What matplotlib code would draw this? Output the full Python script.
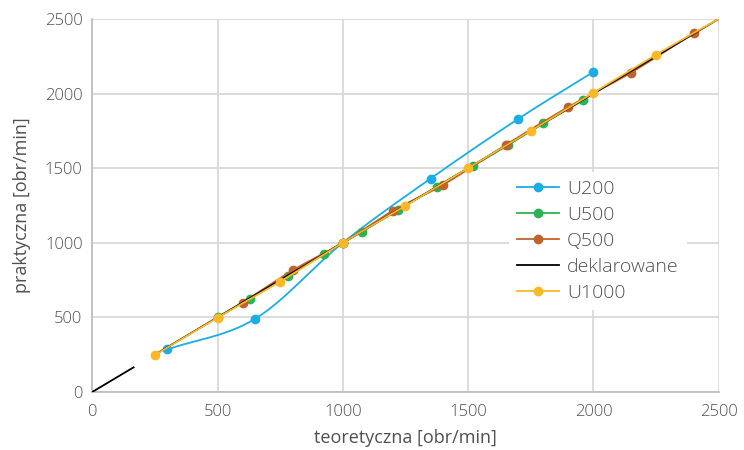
import matplotlib
matplotlib.use("Agg")
import matplotlib.pyplot as plt
import numpy as np

plt.rcParams['font.family'] = ['Open Sans', 'DejaVu Sans']
plt.rcParams['font.weight'] = 'light'

u200_x = [300, 650, 1000, 1350, 1700, 2000]
u200_y = [285, 490, 1000, 1430, 1830, 2145]

u500_x = [500, 630, 780, 925, 1000, 1075, 1220, 1375, 1520, 1660, 1800, 1960]
u500_y = [500, 625, 775, 925, 1000, 1072, 1220, 1372, 1515, 1655, 1800, 1955]

q500_x = [600, 800, 1000, 1200, 1400, 1650, 1900, 2150, 2400]
q500_y = [598, 815, 1000, 1215, 1388, 1655, 1910, 2140, 2405]

dekl_x = [0, 165, np.nan, 250, 2500]
dekl_y = [0, 165, np.nan, 250, 2500]

u1000_x = [250, 500, 750, 1000, 1250, 1500, 1750, 2000, 2250, 2500]
u1000_y = [248, 498, 740, 1000, 1248, 1500, 1750, 2005, 2260, 2500]

ticks = [0, 500, 1000, 1500, 2000, 2500]


def smooth(x, y, n=30):
    # wygladzanie jak w Excelu (Catmull-Rom)
    p = np.column_stack([x, y]).astype(float)
    p = np.vstack([p[0] * 2 - p[1], p, p[-1] * 2 - p[-2]])
    out = []
    t = np.linspace(0, 1, n)[:, None]
    for i in range(1, len(p) - 2):
        p0, p1, p2, p3 = p[i - 1], p[i], p[i + 1], p[i + 2]
        seg = 0.5 * ((2 * p1) + (-p0 + p2) * t + (2 * p0 - 5 * p1 + 4 * p2 - p3) * t ** 2
                     + (-p0 + 3 * p1 - 3 * p2 + p3) * t ** 3)
        out.append(seg)
    out = np.vstack(out)
    return out[:, 0], out[:, 1]


fig, ax = plt.subplots(figsize=(7.44, 4.5), dpi=100)
fig.subplots_adjust(left=0.124, right=0.966, top=0.958, bottom=0.129)

series = [
    ("U200", u200_x, u200_y, "#1CADE4"),
    ("U500", u500_x, u500_y, "#2BB456"),
    ("Q500", q500_x, q500_y, "#C0622B"),
]
for name, xs, ys, c in series:
    sx, sy = smooth(xs, ys)
    ax.plot(sx, sy, color=c, lw=1.3, zorder=3)
    ax.plot(xs, ys, 'o', color=c, ms=6, zorder=3)
    ax.plot([], [], '-o', color=c, lw=1.3, ms=6, label=name)

ax.plot(dekl_x, dekl_y, color="black", lw=1.3, zorder=3, label="deklarowane")

sx, sy = smooth(u1000_x, u1000_y)
ax.plot(sx, sy, color="#FDB827", lw=1.3, zorder=4)
ax.plot(u1000_x[:-1], u1000_y[:-1], 'o', color="#FDB827", ms=6, zorder=4)
ax.plot([], [], '-o', color="#FDB827", lw=1.3, ms=6, label="U1000")

ax.set_xlim(0, 2500)
ax.set_ylim(0, 2500)
ax.set_xticks(ticks)
ax.set_yticks(ticks)
ax.grid(True, color="#D9D9D9", lw=1.3, zorder=0)
ax.set_axisbelow(True)
for s in ["top", "right"]:
    ax.spines[s].set_visible(False)
for s in ["left", "bottom"]:
    ax.spines[s].set_color("#BFBFBF")
    ax.spines[s].set_linewidth(1.3)
ax.tick_params(length=0, labelsize=12, colors="#505050")
ax.tick_params(axis="x", pad=9)
ax.tick_params(axis="y", pad=7)

ax.set_xlabel("teoretyczna [obr/min]", fontsize=13, color="#505050", labelpad=6)
ax.set_ylabel("praktyczna [obr/min]", fontsize=13, color="#505050", labelpad=10)

leg = ax.legend(loc="center left", bbox_to_anchor=(0.665, 0.405), fontsize=14,
                frameon=True, facecolor="white", edgecolor="none", framealpha=1,
                handlelength=2.2, handletextpad=0.4, labelspacing=0.42, borderaxespad=0)
for t in leg.get_texts():
    t.set_color("#505050")

plt.savefig("out.png", dpi=100)
